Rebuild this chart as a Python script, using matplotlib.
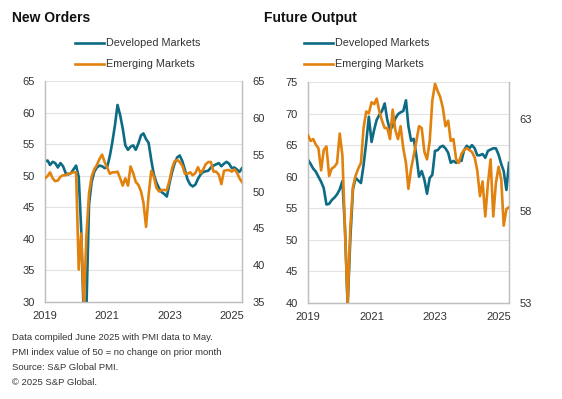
import matplotlib
matplotlib.use('Agg')
import matplotlib.pyplot as plt
import matplotlib.dates as mdates
import numpy as np
import pandas as pd

plt.rcParams['font.family'] = ['Liberation Sans', 'DejaVu Sans']

# monthly data, Jan 2019 - May 2025
dates = pd.date_range('2019-01-01', '2025-05-01', freq='MS')
year_ticks = pd.to_datetime(['2019-01-01', '2021-01-01', '2023-01-01', '2025-01-01'])

# New Orders (developed on left axis, emerging on right axis)
no_dev = [52.3, 52.4, 51.7, 52.2, 52.0, 51.3, 52.0, 51.5, 50.4, 50.2, 50.4, 51.0,
          51.6, 49.8, 41.4, 27.0, 29.0, 45.5, 49.0, 50.6, 51.3, 51.6, 51.5, 51.2,
          51.4, 53.2, 55.3, 58.0, 61.2, 59.6, 57.5, 54.8, 54.1, 54.6, 54.8, 54.1,
          55.1, 56.4, 56.7, 55.8, 55.2, 52.5, 50.2, 48.9, 48.0, 47.4, 47.1, 46.7,
          48.8, 50.6, 51.9, 52.9, 53.2, 52.3, 50.9, 49.4, 48.6, 48.3, 48.6, 49.5,
          50.2, 50.6, 50.7, 50.8, 51.3, 51.6, 51.8, 52.0, 51.5, 51.9, 52.2, 51.9,
          51.2, 51.3, 51.0, 50.6, 51.2]
no_em = [51.8, 52.1, 52.6, 51.8, 51.4, 51.5, 52.0, 52.2, 52.2, 52.4, 52.5, 52.6,
         52.6, 39.4, 44.3, 34.5, 44.0, 49.8, 52.0, 53.0, 53.6, 54.4, 55.0, 54.0,
         53.2, 52.4, 52.6, 52.6, 52.7, 51.8, 50.8, 51.8, 50.8, 53.4, 52.5, 51.3,
         50.9, 50.0, 48.5, 45.2, 49.5, 52.8, 52.0, 50.5, 50.0, 50.2, 50.2, 50.2,
         51.5, 53.2, 54.1, 54.3, 54.0, 53.5, 52.4, 52.4, 52.6, 52.2, 52.5, 53.3,
         52.5, 53.0, 53.7, 54.0, 54.0, 52.7, 52.7, 52.3, 51.0, 52.8, 52.9, 52.9,
         52.7, 53.0, 52.6, 51.8, 51.3]

# Future Output (developed on left axis, emerging on right axis)
fo_dev = [62.7, 62.0, 61.3, 60.8, 60.0, 59.2, 58.2, 55.6, 55.7, 56.3, 56.7, 57.2,
          58.0, 59.3, 52.0, 39.5, 50.0, 58.0, 59.8, 59.4, 59.0, 61.8, 65.5, 69.5,
          65.5, 67.5, 69.0, 69.8, 70.4, 71.6, 69.0, 67.4, 68.0, 69.2, 69.9, 70.2,
          70.4, 72.1, 68.0, 65.7, 66.0, 63.3, 60.0, 60.9, 59.5, 57.3, 59.8, 60.3,
          64.1, 64.2, 64.7, 64.9, 64.5, 63.8, 62.2, 62.5, 62.2, 62.5, 62.5, 64.2,
          64.9, 64.5, 65.0, 64.5, 63.4, 63.4, 63.6, 63.0, 64.1, 64.3, 64.5, 64.5,
          63.5, 62.0, 60.9, 57.9, 62.2]
fo_em = [62.1, 61.8, 61.9, 61.6, 61.4, 60.2, 61.3, 61.5, 59.9, 60.3, 60.4, 60.6,
         62.2, 61.0, 57.0, 53.0, 57.0, 59.3, 59.9, 60.3, 60.6, 62.5, 63.4, 63.3,
         63.9, 63.8, 64.1, 63.4, 62.9, 62.5, 62.5, 61.9, 63.5, 62.4, 61.9, 62.6,
         61.4, 60.6, 59.2, 60.3, 61.0, 61.8, 62.6, 62.5, 61.2, 60.8, 61.8, 64.0,
         64.9, 64.5, 64.2, 63.6, 62.6, 62.9, 61.8, 61.9, 60.8, 60.6, 61.1, 61.3,
         61.4, 61.3, 61.2, 60.9, 60.2, 58.8, 59.6, 57.7, 59.5, 60.8, 57.7, 59.5,
         60.4, 59.7, 57.2, 58.1, 58.2]

teal = '#0d6b85'
orange = '#e2820e'
txt = '#333333'
spine_c = '#bfbfbf'

fig = plt.figure(figsize=(5.62, 3.99), dpi=100)


def panel(rect, dev, em, ylim, yticks, ylim2, yticks2, title, title_x, leg_x):
    ax = fig.add_axes(rect)
    ax2 = ax.twinx()
    l1, = ax.plot(dates, dev, color=teal, lw=1.9, zorder=3)
    l2, = ax2.plot(dates, em, color=orange, lw=1.9, zorder=3)
    ax.set_ylim(*ylim)
    ax.set_yticks(yticks)
    ax2.set_ylim(*ylim2)
    ax2.set_yticks(yticks2)
    ax.set_xlim(dates[0], dates[-1])
    ax.set_xticks(year_ticks)
    ax.xaxis.set_major_formatter(mdates.DateFormatter('%Y'))
    ax.grid(axis='y', color='#e3e3e3', lw=0.8)
    ax.set_axisbelow(True)
    for a in (ax, ax2):
        a.tick_params(length=0, labelsize=8, labelcolor=txt, pad=7.5)
        a.spines['top'].set_visible(False)
        for s in ('left', 'right', 'bottom'):
            a.spines[s].set_color(spine_c)
            a.spines[s].set_linewidth(0.9)
    ax.tick_params(axis='x', pad=6.5)
    fig.text(title_x, 1 - 18 / 399, title, fontsize=10, fontweight='bold',
             color='#111111', va='center', ha='left')
    fig.legend([l1, l2], ['Developed Markets', 'Emerging Markets'],
               loc='upper left', bbox_to_anchor=(leg_x, 1 - 38.5 / 399),
               frameon=False, fontsize=7.8, handlelength=2.7, handletextpad=0.2,
               labelspacing=1.0, borderaxespad=0, borderpad=0,
               labelcolor=txt)
    return ax, ax2


panel([45 / 562, 97 / 399, 197 / 562, 221 / 399], no_dev, no_em,
      (30, 65), range(30, 66, 5), (35, 65), range(35, 66, 5),
      'New Orders', 12 / 562, 75 / 562)
panel([308 / 562, 96 / 399, 201 / 562, 221 / 399], fo_dev, fo_em,
      (40, 75), range(40, 76, 5), (53, 65), [53, 58, 63],
      'Future Output', 264 / 562, 304 / 562)

notes = ['Data compiled June 2025 with PMI data to May.',
         'PMI index value of 50 = no change on prior month',
         'Source: S&P Global PMI.',
         '\u00a9 2025 S&P Global.']
for i, n in enumerate(notes):
    fig.text(12 / 562, 1 - (338 + 14.7 * i) / 399, n, fontsize=6.8,
             color=txt, va='center', ha='left')

fig.savefig('out.png', dpi=100)
